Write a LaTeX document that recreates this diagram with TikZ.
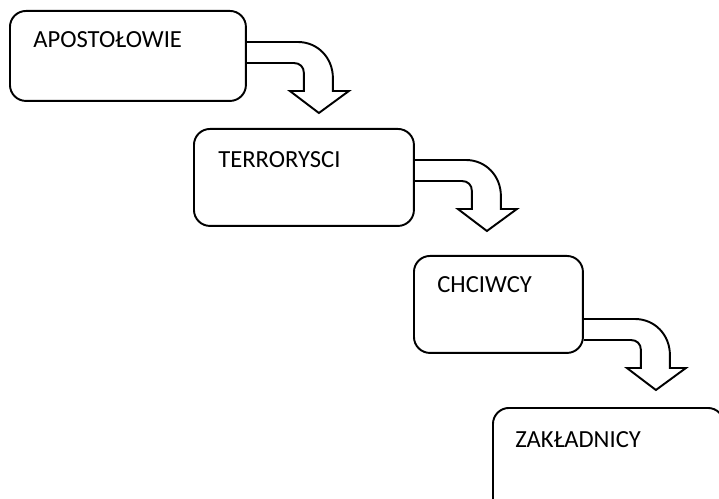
\documentclass[tikz,border=0pt]{standalone}
\usepackage{fontspec}
\setmainfont{Carlito}
\usetikzlibrary{positioning,calc}
\tikzset{
    box/.style={draw, line width=1.1pt, rounded corners=0.32cm, inner sep=0pt},
    lbl/.style={anchor=base west, inner sep=0pt, font=\fontsize{14}{17}\selectfont},
    bentarrow/.pic={
        \draw[line width=1.1pt, line join=miter] (0,0) -- (51,0) .. controls (71,0) and (86,16) .. (86,36) -- (86,49) -- (102,49) -- (72,71) -- (43,49) -- (57,49) -- (57,31) .. controls (57,25) and (53,21) .. (47,21) -- (0,21);
    }
}

\begin{document}
\begin{tikzpicture}[x=0.02cm, y=-0.02cm]
    \clip (0,0) rectangle (719,499);
    % the four boxes
    \node[box, minimum width=4.72cm, minimum height=1.8cm, anchor=north west] (apost) at (9,10) {};
    \node[box, minimum width=4.4cm, minimum height=1.94cm, anchor=north west] (terror) at (193,128) {};
    \node[box, minimum width=3.38cm, minimum height=1.94cm, anchor=north west] (chciw) at (413,255) {};
    \node[box, minimum width=4.62cm, minimum height=2.4cm, anchor=north west] (zakl) at (492,407) {};
    % labels
    \node[lbl] (apostlbl) at ($(apost.north west)+(24,38)$) {APOSTOŁOWIE};
    \node[lbl] (terrorlbl) at ($(terror.north west)+(25,40)$) {TERRORYSCI};
    \node[lbl] (chciwlbl) at ($(chciw.north west)+(24,38)$) {CHCIWCY};
    \node[lbl] (zakllbl) at ($(zakl.north west)+(23,40)$) {ZAKŁADNICY};
    % bent arrows
    \pic at ($(apost.north east)+(0,32)$) {bentarrow};
    \pic at ($(terror.north east)+(0,32)$) {bentarrow};
    \pic at ($(chciw.north east)+(0,64)$) {bentarrow};
\end{tikzpicture}
\end{document}
